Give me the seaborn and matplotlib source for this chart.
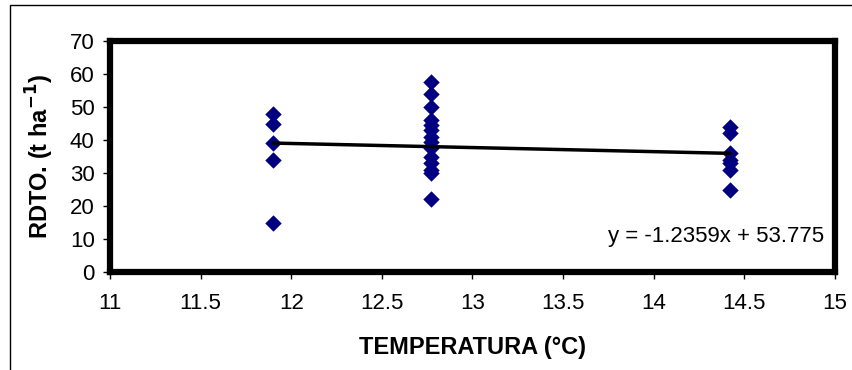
import matplotlib
matplotlib.use("Agg")
import matplotlib.pyplot as plt
import seaborn as sns
import numpy as np
import pandas as pd
from matplotlib.patches import Rectangle

sns.set_style("white")
plt.rcParams['font.family'] = ['Liberation Sans', 'DejaVu Sans']
plt.rcParams['text.color'] = 'black'
plt.rcParams['axes.labelcolor'] = 'black'
plt.rcParams['xtick.color'] = 'black'
plt.rcParams['ytick.color'] = 'black'

# Data
temp_a = [11.9] * 5
rdto_a = [48, 45, 39, 34, 15]
temp_b = [12.77] * 14
rdto_b = [57.5, 54, 50, 46, 44.5, 43, 41, 39.5, 37.5, 35, 33, 31, 30, 22]
temp_c = [14.42] * 7
rdto_c = [44, 42, 36, 34, 33, 31, 25]

slope = -1.2359
intercept = 53.775
x_ticks = [11, 11.5, 12, 12.5, 13, 13.5, 14, 14.5, 15]
y_ticks = [0, 10, 20, 30, 40, 50, 60, 70]

df = pd.DataFrame({
    "TEMPERATURA": temp_a + temp_b + temp_c,
    "RDTO": rdto_a + rdto_b + rdto_c,
})

fig = plt.figure(figsize=(8.53, 3.70), dpi=100)
ax = fig.add_axes([110/853, 1-272/370, (835-110)/853, (272-41)/370])

# outer frame
fig.patches.append(Rectangle((10/853, -0.1), 1.2, (1-5/370) + 0.1, transform=fig.transFigure,
                             fill=False, edgecolor='black', linewidth=1.0))

sns.scatterplot(data=df, x="TEMPERATURA", y="RDTO", ax=ax, marker='D', s=70,
                color='#000080', edgecolor='#000080', linewidth=0, zorder=3)

xl = np.array([min(df["TEMPERATURA"]), max(df["TEMPERATURA"])])
sns.lineplot(x=xl, y=slope * xl + intercept, ax=ax, color='black', linewidth=2.5, zorder=4)

ax.set_xlim(11, 15)
ax.set_ylim(0, 70)
ax.set_xticks(x_ticks)
ax.set_xticklabels([f"{t:g}" for t in x_ticks])
ax.set_yticks(y_ticks)
ax.tick_params(axis='both', which='major', direction='out', length=5, width=1,
               labelsize=16, color='black', labelcolor='black', pad=10,
               bottom=True, left=True)
ax.tick_params(axis='y', pad=6)
for sp in ax.spines.values():
    sp.set_linewidth(4.5)
    sp.set_color('black')
    sp.set_visible(True)
ax.grid(False)

ax.set_xlabel("TEMPERATURA (°C)", fontsize=17, fontweight='bold', labelpad=16)
ax.set_ylabel("RDTO. (t ha$^{\\mathbf{-1}}$)", fontsize=17, fontweight='bold', labelpad=10)

ax.text(0.985, 0.155, "y = -1.2359x + 53.775", transform=ax.transAxes,
        ha='right', va='center', fontsize=16)

fig.savefig("out.png", dpi=100)
